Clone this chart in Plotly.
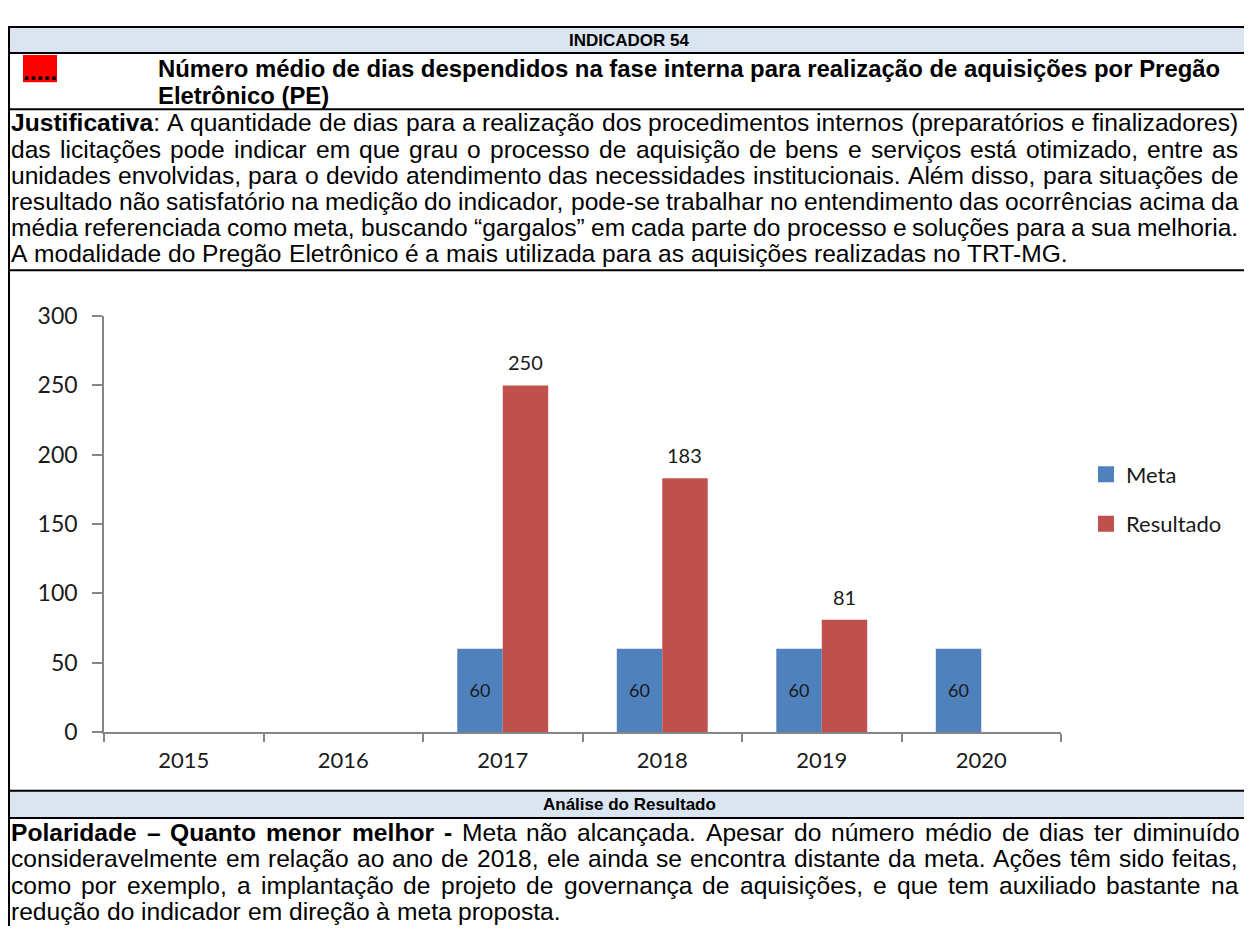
import unicodedata
import plotly.graph_objects as go

# ---------------- data ----------------
years = ["2015", "2016", "2017", "2018", "2019", "2020"]
meta = [None, None, 60, 60, 60, 60]
resultado = [None, None, 250, 183, 81, None]
y_ticks = [0, 50, 100, 150, 200, 250, 300]
series_names = ["Meta", "Resultado"]

header_title = "INDICADOR 54"
title_lines = [
    "Número médio de dias despendidos na fase interna para realização de aquisições por Pregão",
    "Eletrônico (PE)",
]
just_lines = [
    "<b>Justificativa</b>: A quantidade de dias para a realização dos procedimentos internos (preparatórios e finalizadores)",
    "das licitações pode indicar em que grau o processo de aquisição de bens e serviços está otimizado, entre as",
    "unidades envolvidas, para o devido atendimento das necessidades institucionais. Além disso, para situações de",
    "resultado não satisfatório na medição do indicador, pode-se trabalhar no entendimento das ocorrências acima da",
    "média referenciada como meta, buscando “gargalos” em cada parte do processo e soluções para a sua melhoria.",
    "A modalidade do Pregão Eletrônico é a mais utilizada para as aquisições realizadas no TRT-MG.",
]
just_flags = [True, True, True, True, True, False]
analysis_header = "Análise do Resultado"
analysis_lines = [
    "<b>Polaridade – Quanto menor melhor -</b> Meta não alcançada. Apesar do número médio de dias ter diminuído",
    "consideravelmente em relação ao ano de 2018, ele ainda se encontra distante da meta. Ações têm sido feitas,",
    "como por exemplo, a implantação de projeto de governança de aquisições, e que tem auxiliado bastante na",
    "redução do indicador em direção à meta proposta.",
]
analysis_flags = [True, True, True, False]

# ---------------- geometry / style ----------------
OFF = 8                      # browser body margin
W, H = 1244, 918
TEXT_FONT = "Liberation Sans, Arial, sans-serif"
CHART_FONT = "Lato, Open Sans, sans-serif"
FS = 24.6
FS_TITLE = 23.9
FS_HEAD = 17
BLUE, RED = "#4f81bd", "#c0504d"
HEAD_FILL = "#dbe5f1"
INK = "#1a1a1a"


def px(x):
    return (x - OFF) / W


def py(y):
    return 1 - (y - OFF) / H


# Arial / Liberation Sans advance widths (1/1000 em)
REG = dict(zip("abcdefghijklmnopqrstuvwxyz",
               [556, 556, 500, 556, 556, 278, 556, 556, 222, 222, 500, 222, 833,
                556, 556, 556, 556, 333, 500, 278, 556, 500, 722, 500, 500, 500]))
REG.update(zip("ABCDEFGHIJKLMNOPQRSTUVWXYZ",
               [667, 667, 722, 722, 667, 611, 778, 722, 278, 500, 667, 556, 833,
                722, 778, 667, 778, 722, 667, 611, 722, 667, 944, 667, 667, 611]))
BOLD = dict(zip("abcdefghijklmnopqrstuvwxyz",
                [556, 611, 556, 611, 556, 333, 611, 611, 278, 278, 556, 278, 889,
                 611, 611, 611, 611, 389, 556, 333, 611, 556, 778, 556, 556, 500]))
BOLD.update(zip("ABCDEFGHIJKLMNOPQRSTUVWXYZ",
                [722, 722, 722, 722, 667, 611, 778, 722, 278, 556, 722, 611, 833,
                 722, 778, 667, 778, 722, 667, 611, 722, 667, 944, 667, 667, 611]))
for d in (REG, BOLD):
    for c in "0123456789":
        d[c] = 556
    d.update({" ": 278, ".": 278, ",": 278, "(": 333, ")": 333, "-": 333, "–": 556})
REG.update({":": 278, "“": 333, "”": 333})
BOLD.update({":": 333, "“": 500, "”": 500})


def cw(ch, bold):
    d = BOLD if bold else REG
    if ch in d:
        return d[ch]
    base = unicodedata.normalize("NFD", ch)[0]
    return d.get(base, 556)


def parse(line):
    """Return list of words; each word is a list of (char, bold)."""
    chars, bold, i = [], False, 0
    while i < len(line):
        if line.startswith("<b>", i):
            bold, i = True, i + 3
            continue
        if line.startswith("</b>", i):
            bold, i = False, i + 4
            continue
        chars.append((line[i], bold))
        i += 1
    words, cur = [], []
    for ch, b in chars:
        if ch == " ":
            if cur:
                words.append(cur)
            cur = []
        else:
            cur.append((ch, b))
    if cur:
        words.append(cur)
    return words


def word_markup(word):
    out, state = "", False
    for ch, b in word:
        if b and not state:
            out += "<b>"
        if not b and state:
            out += "</b>"
        state = b
        out += ch
    if state:
        out += "</b>"
    return out


annotations = []


def add_text(text, x, y, size, anchor="left", bold=False, color="black", family=TEXT_FONT):
    annotations.append(dict(
        text=f"<b>{text}</b>" if bold else text, x=px(x), y=py(y), xref="paper", yref="paper",
        xanchor=anchor, yanchor="middle", showarrow=False, borderpad=0, borderwidth=0,
        font=dict(family=family, size=size, color=color)))


def add_paragraph(lines, flags, x0, x1, y0, dy, size):
    for k, (line, justify) in enumerate(zip(lines, flags)):
        y = y0 + k * dy
        words = parse(line)
        widths = [sum(cw(c, b) for c, b in w) * size / 1000 for w in words]
        if justify and len(words) > 1:
            gap = (x1 - x0 - sum(widths)) / (len(words) - 1)
        else:
            gap = 278 * size / 1000
        x = x0
        for w, wd in zip(words, widths):
            add_text(word_markup(w), x, y, size)
            x += wd + gap


# headers & titles
add_text(header_title, 629, 26, FS_HEAD, anchor="center", bold=True)
add_text(".....", 40, 58, FS, anchor="center", bold=True)
for k, t in enumerate(title_lines):
    add_text(t, 158, 55 + 28 * k, FS_TITLE, bold=True)
add_paragraph(just_lines, just_flags, 11, 1238, 111, 27, FS)
add_text(analysis_header, 629, 814, FS_HEAD, anchor="center", bold=True)
add_paragraph(analysis_lines, analysis_flags, 11, 1238, 843, 27.3, FS)

# table shapes
shapes = [
    dict(type="rect", xref="paper", yref="paper", x0=px(9), x1=px(1248), y0=py(39), y1=py(12),
         fillcolor=HEAD_FILL, line=dict(width=0), layer="below"),
    dict(type="rect", xref="paper", yref="paper", x0=px(9), x1=px(1248), y0=py(828), y1=py(800),
         fillcolor=HEAD_FILL, line=dict(width=0), layer="below"),
    dict(type="rect", xref="paper", yref="paper", x0=px(23), x1=px(57), y0=py(69), y1=py(41),
         fillcolor="#ff0000", line=dict(width=0), layer="below"),
]
for yy in (12, 39, 97, 263, 800, 828):
    shapes.append(dict(type="line", xref="paper", yref="paper", x0=px(8), x1=px(1249),
                       y0=py(yy), y1=py(yy), line=dict(color="black", width=2)))
for xx in (9, 1248):
    shapes.append(dict(type="line", xref="paper", yref="paper", x0=px(xx), x1=px(xx),
                       y0=py(11), y1=py(940), line=dict(color="black", width=2)))

# chart geometry (page pixels)
AX_L, AX_R = 104, 1061
Y0_PX, Y300_PX = 739.3, 310.3
BARGAP = 0.43
cat_w = (AX_R - AX_L) / len(years)
bar_w = (1 - BARGAP) / 2 * cat_w
colors = [BLUE, RED]

fig = go.Figure()
fig.add_trace(go.Bar(
    x=years, y=meta, name=series_names[0], marker=dict(color=BLUE, line=dict(width=0)),
    texttemplate="%{y}", textposition="inside", insidetextanchor="middle",
    textfont=dict(family=CHART_FONT, size=18, color=INK), showlegend=False))
fig.add_trace(go.Bar(
    x=years, y=resultado, name=series_names[1], marker=dict(color=RED, line=dict(width=0)),
    showlegend=False))

# legend entries with larger square keys
for name, col in zip(series_names, colors):
    fig.add_trace(go.Scatter(
        x=[None], y=[None], mode="markers", name=name, legendgroup=name,
        marker=dict(symbol="square", size=16, color=col, line=dict(width=0)),
        hoverinfo="skip"))

# data labels above the Resultado bars (x given as category index)
for i, v in enumerate(resultado):
    if v is not None:
        annotations.append(dict(
            x=i, y=v, xref="x", yref="y", text=str(v), showarrow=False,
            xanchor="center", yanchor="bottom", xshift=bar_w / 2, yshift=9,
            font=dict(family=CHART_FONT, size=20, color=INK)))

fig.update_layout(
    width=W, height=H, margin=dict(l=0, r=0, t=0, b=0),
    paper_bgcolor="white", plot_bgcolor="white",
    barmode="group", bargap=BARGAP, bargroupgap=0,
    font=dict(family=CHART_FONT, color=INK),
    showlegend=True,
    legend=dict(x=px(1086), y=py(452), xanchor="left", yanchor="top",
                font=dict(family=CHART_FONT, size=22, color=INK), itemsizing="trace",
                tracegroupgap=18, bgcolor="rgba(0,0,0,0)"),
    xaxis=dict(type="category", categoryorder="array", categoryarray=years,
               range=[-0.5, len(years) - 0.5], autorange=False,
               domain=[px(AX_L), px(AX_R)], showgrid=False, zeroline=False,
               showline=True, linecolor="#868686", linewidth=1.5,
               ticks="outside", tickson="boundaries", ticklen=8, tickcolor="#868686",
               tickwidth=1.5, tickfont=dict(family=CHART_FONT, size=22, color=INK),
               ticklabelstandoff=8),
    yaxis=dict(range=[0, 300], autorange=False, tickvals=y_ticks,
               domain=[py(Y0_PX), py(Y300_PX)],
               showgrid=False, zeroline=False, showline=True, linecolor="#868686",
               linewidth=1.5, ticks="outside", ticklen=10, tickcolor="#868686",
               tickwidth=1.5, tickfont=dict(family=CHART_FONT, size=23, color=INK),
               ticklabelstandoff=10),
    shapes=shapes, annotations=annotations,
)

fig.write_html("out.html")
